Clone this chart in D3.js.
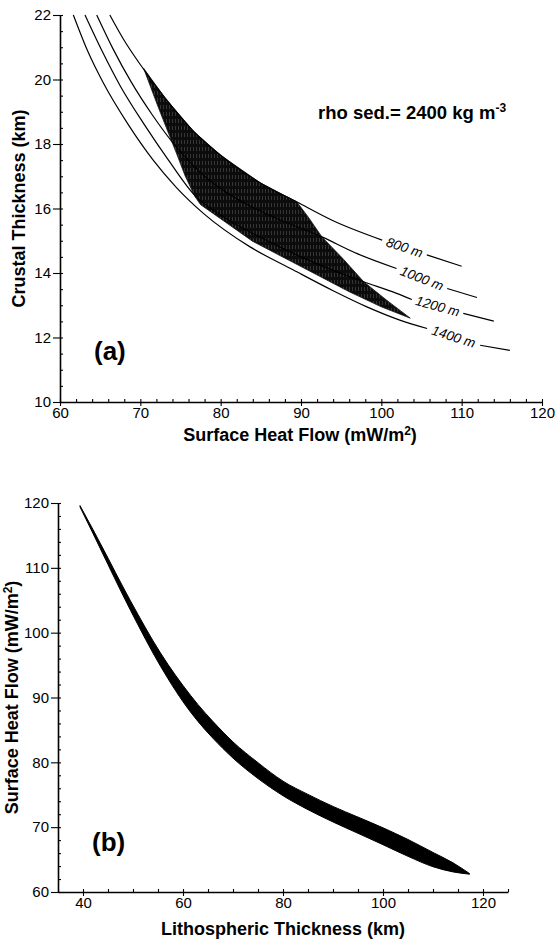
<!DOCTYPE html>
<html>
<head>
<meta charset="utf-8">
<script src="https://cdn.jsdelivr.net/npm/d3@7/dist/d3.min.js"></script>
<style>
  body { margin: 0; background: #fff; }
  svg { display: block; font-family: "Liberation Sans", Arial, sans-serif; }
</style>
</head>
<body>
<div id="app"></div>
<script>
// (a) crustal thickness (km) vs surface heat flow, one curve per sediment thickness
const sedLabels = ['800 m', '1000 m', '1200 m', '1400 m'];

// [heat flow, crustal thickness]; "tail" is the short piece after the label
const curve800 = [[66.2, 22], [67.9, 21.25], [69.75, 20.55], [73, 19.45], [76.6, 18.4], [80, 17.65], [84.9, 16.8], [89.5, 16.2], [94, 15.62], [100.1, 15.02]];
const tail800 = [[105.66, 14.56], [110.0, 14.21]];
const curve1000 = [[64.57, 22], [66.6, 20.95], [68.8, 19.95], [71.5, 18.9], [74.5, 17.9], [78, 17.0], [82, 16.3], [86, 15.8], [92.6, 15.12], [97, 14.6], [101.9, 14.14]];
const tail1000 = [[108.2, 13.52], [111.9, 13.24]];
const curve1200 = [[63.11, 22], [65.3, 20.85], [67.5, 19.8], [70.5, 18.6], [73.5, 17.5], [76.8, 16.4], [80, 15.8], [85, 15.1], [90, 14.5], [94, 14.08], [97.8, 13.73], [101.9, 13.37], [103.8, 13.18]];
const tail1200 = [[110.2, 12.75], [114.0, 12.51]];
const curve1400 = [[61.66, 22], [63.5, 20.85], [65.4, 19.89], [68.5, 18.6], [71.6, 17.5], [74.5, 16.65], [77.85, 15.85], [83.66, 14.81], [89, 14.1], [94, 13.45], [98.2, 12.95], [102.3, 12.54], [105.7, 12.28]];
const tail1400 = [[112.3, 11.76], [116, 11.6]];

// shaded solution region (polygon, clockwise from upper left)
const bandHeatFlow = [70.4, 73, 76.6, 80, 84.9, 89.5, 91, 92.6, 95.2, 97.8, 100.7, 103.6, 100, 96, 90, 84, 80, 77.5, 76.8, 75.6, 74.5, 72.2];
const bandCrust = [20.35, 19.45, 18.4, 17.65, 16.8, 16.2, 15.7, 15.12, 14.45, 13.73, 13.15, 12.6, 12.95, 13.42, 14.2, 14.98, 15.68, 16.12, 16.37, 17.0, 17.71, 19.16];

// (b) surface heat flow vs lithospheric thickness (band)
const lithThickness = [39.4, 42, 45, 48, 51, 54, 57, 60, 63, 66, 70, 75, 80, 85, 90, 95, 100, 105, 110, 114, 117.3];
const heatFlowUpper = [119.6, 115.9, 111.5, 107.05, 102.8, 98.75, 95.1, 91.85, 88.9, 86.3, 83.15, 79.95, 77.1, 75.05, 73.2, 71.55, 69.9, 68.1, 66.1, 64.5, 62.85];
const heatFlowLower = [119.4, 115.3, 110.5, 105.75, 101.2, 96.85, 92.9, 89.35, 86.3, 83.7, 80.65, 77.5, 74.85, 72.7, 70.8, 69.05, 67.3, 65.5, 63.9, 63.1, 62.75];

const xTicksA = [60, 70, 80, 90, 100, 110, 120];
const yTicksA = [10, 12, 14, 16, 18, 20, 22];
const xTicksB = [40, 60, 80, 100, 120];
const yTicksB = [60, 70, 80, 90, 100, 110, 120];

const width = 556;
const height = 943;
const font = '"Liberation Sans", Arial, sans-serif';

const svg = d3.select('#app').append('svg')
  .attr('width', width)
  .attr('height', height);

// near-black fill with faint light streaks, like the scanned hatching
const pat = svg.append('defs').append('pattern')
  .attr('id', 'hatch')
  .attr('patternUnits', 'userSpaceOnUse')
  .attr('width', 3)
  .attr('height', 7);
pat.append('rect').attr('width', 3).attr('height', 7).attr('fill', '#0c0c0c');
pat.append('line')
  .attr('x1', 1.5).attr('x2', 1.5).attr('y1', 0).attr('y2', 4)
  .attr('stroke', '#666').attr('stroke-width', 0.45);

const drawAxes = (g, x, y, xMajor, xMinor, yMajor, yMinor) => {
  const y0 = y.range()[0];
  const x0 = x.range()[0];

  g.append('g')
    .attr('transform', `translate(0, ${y0})`)
    .call(d3.axisBottom(x).tickValues(xMinor).tickSizeInner(-3).tickSizeOuter(0).tickFormat(''))
    .call(a => a.select('.domain').remove());
  g.append('g')
    .attr('transform', `translate(${x0}, 0)`)
    .call(d3.axisLeft(y).tickValues(yMinor).tickSizeInner(-3).tickSizeOuter(0).tickFormat(''))
    .call(a => a.select('.domain').remove());

  g.append('g')
    .attr('transform', `translate(0, ${y0})`)
    .call(d3.axisBottom(x).tickValues(xMajor).tickSizeInner(4).tickSizeOuter(0).tickPadding(1));
  g.append('g')
    .attr('transform', `translate(${x0}, 0)`)
    .call(d3.axisLeft(y).tickValues(yMajor).tickSizeInner(7).tickSizeOuter(0).tickPadding(2));

  g.selectAll('.domain').attr('stroke', '#000').attr('stroke-width', 1.6);
  g.selectAll('.tick line').attr('stroke', '#000').attr('stroke-width', 1.1);
  g.selectAll('.tick text')
    .attr('font-family', font)
    .attr('font-size', 15)
    .attr('fill', '#000');
};

// ---------- panel (a) ----------
const xA = d3.scaleLinear().domain([60, 120]).range([60, 542]);
const yA = d3.scaleLinear().domain([10, 22]).range([402, 15]);
const gA = svg.append('g');

const band = bandHeatFlow.map((h, i) => [h, bandCrust[i]]);
gA.append('path')
  .datum(band)
  .attr('d', d3.line().x(d => xA(d[0])).y(d => yA(d[1])).curve(d3.curveLinearClosed))
  .attr('fill', 'url(#hatch)')
  .attr('stroke', '#111')
  .attr('stroke-width', 0.8);

const lineA = d3.line()
  .x(d => xA(d[0]))
  .y(d => yA(d[1]))
  .curve(d3.curveMonotoneX);

const curves = [
  { main: curve800, tail: tail800 },
  { main: curve1000, tail: tail1000 },
  { main: curve1200, tail: tail1200 },
  { main: curve1400, tail: tail1400 },
];

curves.forEach((c, i) => {
  [c.main, c.tail].forEach(seg => {
    gA.append('path')
      .datum(seg)
      .attr('d', lineA)
      .attr('fill', 'none')
      .attr('stroke', '#000')
      .attr('stroke-width', 1.2);
  });
  // label sits in the gap between the curve and its tail
  const p0 = c.main[c.main.length - 1];
  const p1 = c.tail[0];
  const ax = xA(p0[0]), ay = yA(p0[1]);
  const bx = xA(p1[0]), by = yA(p1[1]);
  const angle = Math.atan2(by - ay, bx - ax) * 180 / Math.PI;
  gA.append('text')
    .attr('transform', `translate(${(ax + bx) / 2}, ${(ay + by) / 2}) rotate(${angle})`)
    .attr('text-anchor', 'middle')
    .attr('dominant-baseline', 'central')
    .attr('font-family', font)
    .attr('font-style', 'italic')
    .attr('font-size', 13.5)
    .text(sedLabels[i]);
});

drawAxes(gA, xA, yA, xTicksA, d3.range(60, 121, 2), yTicksA, d3.range(10, 22.01, 0.5));

gA.append('text')
  .attr('x', 318).attr('y', 119)
  .attr('font-family', font).attr('font-weight', 'bold').attr('font-size', 18.5)
  .text('rho sed.= 2400 kg m')
  .append('tspan').attr('dy', -7).attr('font-size', 12).text('-3');

gA.append('text')
  .attr('x', 94).attr('y', 360)
  .attr('font-family', font).attr('font-weight', 'bold').attr('font-size', 26)
  .text('(a)');

gA.append('text')
  .attr('x', 300).attr('y', 441)
  .attr('text-anchor', 'middle')
  .attr('font-family', font).attr('font-weight', 'bold').attr('font-size', 18)
  .text('Surface Heat Flow (mW/m')
  .call(t => t.append('tspan').attr('dy', -6).attr('font-size', 12).text('2'))
  .call(t => t.append('tspan').attr('dy', 6).text(')'));

gA.append('text')
  .attr('transform', `translate(25, ${(15 + 402) / 2}) rotate(-90)`)
  .attr('text-anchor', 'middle')
  .attr('font-family', font).attr('font-weight', 'bold').attr('font-size', 18)
  .text('Crustal Thickness (km)');

// ---------- panel (b) ----------
const xB = d3.scaleLinear().domain([35, 125]).range([58, 508]);
const yB = d3.scaleLinear().domain([60, 120]).range([892, 503]);
const gB = svg.append('g');

const bandB = lithThickness.map((km, i) => ({ km, hi: heatFlowUpper[i], lo: heatFlowLower[i] }));
gB.append('path')
  .datum(bandB)
  .attr('d', d3.area()
    .x(d => xB(d.km))
    .y0(d => yB(d.lo))
    .y1(d => yB(d.hi))
    .curve(d3.curveMonotoneX))
  .attr('fill', '#000')
  .attr('stroke', '#000')
  .attr('stroke-width', 1);

drawAxes(gB, xB, yB, xTicksB, d3.range(35, 126, 5), yTicksB, d3.range(60, 121, 2));

gB.append('text')
  .attr('x', 92).attr('y', 851)
  .attr('font-family', font).attr('font-weight', 'bold').attr('font-size', 26)
  .text('(b)');

gB.append('text')
  .attr('x', 283).attr('y', 935)
  .attr('text-anchor', 'middle')
  .attr('font-family', font).attr('font-weight', 'bold').attr('font-size', 18)
  .text('Lithospheric Thickness (km)');

gB.append('text')
  .attr('transform', `translate(18, ${(503 + 892) / 2}) rotate(-90)`)
  .attr('text-anchor', 'middle')
  .attr('font-family', font).attr('font-weight', 'bold').attr('font-size', 18)
  .text('Surface Heat Flow (mW/m')
  .call(t => t.append('tspan').attr('dy', -6).attr('font-size', 12).text('2'))
  .call(t => t.append('tspan').attr('dy', 6).text(')'));
</script>
</body>
</html>
